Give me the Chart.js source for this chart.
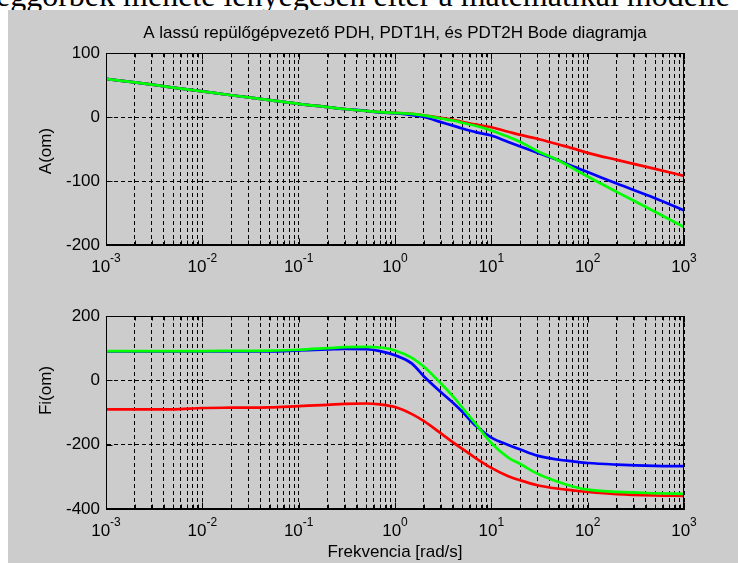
<!DOCTYPE html>
<html>
<head>
<meta charset="utf-8">
<script src="https://cdn.jsdelivr.net/npm/chart.js@4.4.1/dist/chart.umd.min.js"></script>
<style>
  html, body { margin: 0; padding: 0; background: #fff; }
  body { width: 738px; height: 563px; position: relative; overflow: hidden; }
  #doc { position: absolute; left: -4px; top: -24px; white-space: nowrap;
         font-family: "Liberation Serif", "Times New Roman", serif; font-size: 32px; line-height: 38px; color: #000; }
  #fig { position: absolute; left: 8px; top: 10px; width: 730px; height: 553px; background: #cccccc; }
  canvas { position: absolute; left: 0; }
</style>
</head>
<body>
<div id="doc">eggörbék menete lényegesen eltér a matematikai modelle</div>
<div id="fig"></div>
<canvas id="amp" width="738" height="290" style="top:0"></canvas>
<canvas id="fazis" width="738" height="273" style="top:290px"></canvas>
<script>
// frekvenciák [rad/s]
const freq = [0.001, 0.002, 0.005, 0.01, 0.02, 0.05, 0.1, 0.2, 0.3, 0.5, 0.7, 1, 1.5, 2, 3, 4, 5, 7, 10, 15, 20, 30, 50, 70, 100, 200, 500, 1000];

// amplitúdó (dB)
const ampPDH   = [59.5, 54, 46, 40, 34, 26.5, 20.5, 15.5, 12.5, 9.5, 7.5, 6.5, 5, 2.6, -1.4, -4.5, -7.5, -12, -16, -23, -28, -34, -43, -49, -56, -67, -81, -92];
const ampPDT1H = [59.5, 54, 46, 40, 34, 26.5, 20.5, 15.5, 12.5, 9.5, 7, 6, 3, 0, -8, -13.5, -18, -24, -29, -39, -46, -56, -68, -77, -86, -104, -127, -146];
const ampPDT2H = [59.5, 54, 46, 40, 34, 26.5, 20.5, 15.5, 12.5, 9.5, 7.5, 6.5, 5, 2.6, -2.4, -5.5, -9, -14, -21, -31, -39, -53, -68, -80, -93, -117, -148, -172];

// fázis (fok)
const fiPDH   = [-90.5, -90.5, -90, -86, -85, -84, -80, -76, -73, -72, -75, -83, -105, -127, -165, -193, -213, -243, -272, -298, -311, -326, -337, -342, -347, -354, -358, -359];
const fiPDT1H = [90, 90, 90, 90, 90, 90, 93, 96, 98, 97, 91, 78, 52, 12, -37, -70, -98, -143, -178, -201, -215, -234, -247, -252, -257, -262, -266, -267];
const fiPDT2H = [91, 91, 91, 91, 91.5, 92.5, 95, 100, 103, 104, 102, 93, 70, 42, -10, -50, -85, -138, -195, -240, -260, -290, -316, -330, -340, -347, -351, -353];

// tengely feliratok
const decades = [0.001, 0.01, 0.1, 1, 10, 100, 1000];
const expLabels = ['-3', '-2', '-1', '0', '1', '2', '3'];
const minorSteps = [2, 3, 4, 5, 6, 7, 8, 9];
const ampTicks = [-200, -100, 0, 100];
const fiTicks = [-400, -200, 0, 200];

const FONT = "'Liberation Sans', Arial, sans-serif";
Chart.defaults.font.family = FONT;
Chart.defaults.font.size = 17;
Chart.defaults.color = '#000';

function pts(arr) {
    return freq.map((f, i) => ({ x: f, y: arr[i] }));
}

function logTicks() {
    const t = [];
    decades.forEach(d => {
        t.push({ value: d, major: true });
        if (d < 1000) minorSteps.forEach(m => t.push({ value: d * m, major: false }));
    });
    return t;
}

// MATLAB-szerű keret, befelé álló osztások, 10^n feliratok, y tengely cím
const matlabAxes = {
    id: 'matlabAxes',
    afterDraw(chart, args, o) {
        const { ctx, chartArea: a, scales: { x, y } } = chart;
        const L = Math.round(a.left) + 0.5, R = Math.round(a.right) - 0.5;
        const T = Math.round(a.top) + 0.5, B = Math.round(a.bottom) - 0.5;
        ctx.save();
        ctx.setLineDash([]);
        ctx.strokeStyle = '#000';
        ctx.lineWidth = 1;
        ctx.beginPath();
        x.ticks.forEach(t => {
            const px = Math.round(x.getPixelForValue(t.value)) + 0.5;
            const len = t.major ? 6 : 4;
            ctx.moveTo(px, B); ctx.lineTo(px, B - len);
            ctx.moveTo(px, T); ctx.lineTo(px, T + len);
        });
        y.ticks.forEach(t => {
            const py = Math.round(y.getPixelForValue(t.value)) + 0.5;
            ctx.moveTo(L, py); ctx.lineTo(L + 6, py);
            ctx.moveTo(R, py); ctx.lineTo(R - 6, py);
        });
        ctx.stroke();
        ctx.strokeRect(L, T, R - L, B - T);

        ctx.fillStyle = '#000';
        ctx.textAlign = 'left';
        ctx.textBaseline = 'alphabetic';
        decades.forEach((d, i) => {
            const px = x.getPixelForValue(d);
            ctx.font = '17px ' + FONT;
            const w1 = ctx.measureText('10').width;
            ctx.font = '12px ' + FONT;
            const w2 = ctx.measureText(expLabels[i]).width;
            const x0 = px - (w1 + w2) / 2;
            ctx.font = '17px ' + FONT;
            ctx.fillText('10', x0, a.bottom + 27);
            ctx.font = '12px ' + FONT;
            ctx.fillText(expLabels[i], x0 + w1, a.bottom + 17);
        });

        // y tengely címe
        ctx.font = '17px ' + FONT;
        ctx.textAlign = 'center';
        ctx.textBaseline = 'middle';
        ctx.translate(o.titleX, (a.top + a.bottom) / 2 + o.titleShift);
        ctx.rotate(-Math.PI / 2);
        ctx.fillText(o.yTitle, 0, 0);
        ctx.restore();
    }
};

function makeChart(id, series, yMin, yMax, yStep, yTicks, yTitle, opts) {
    const colors = ['#ff0000', '#0000ff', '#00ff00'];
    const names = ['PDH', 'PDT1H', 'PDT2H'];
    return new Chart(document.getElementById(id), {
        type: 'line',
        data: {
            datasets: series.map((s, i) => ({
                label: names[i],
                data: pts(s),
                borderColor: colors[i],
                borderWidth: 2.7,
                pointRadius: 0,
                cubicInterpolationMode: 'monotone',
                order: 2 - i
            }))
        },
        options: {
            responsive: false,
            animation: false,
            events: [],
            layout: { padding: opts.padding },
            plugins: {
                legend: { display: false },
                tooltip: { enabled: false },
                title: opts.title || { display: false },
                matlabAxes: { yTitle: yTitle, titleX: 46, titleShift: opts.yTitleShift }
            },
            scales: {
                x: {
                    type: 'logarithmic',
                    min: 0.001,
                    max: 1000,
                    afterBuildTicks: s => { s.ticks = logTicks(); },
                    afterFit: s => { s.height = opts.xHeight; },
                    ticks: { display: false, autoSkip: false },
                    grid: { color: '#000', lineWidth: 1, drawTicks: false },
                    border: { display: true, color: '#000', dash: [4, 3] },
                    title: opts.xTitle || { display: false }
                },
                y: {
                    min: yMin,
                    max: yMax,
                    afterBuildTicks: s => { s.ticks = yTicks.map(v => ({ value: v })); },
                    afterFit: s => { s.width = 71; },
                    ticks: { stepSize: yStep, padding: 6, font: { size: 17 } },
                    grid: { color: '#000', lineWidth: 1, drawTicks: false },
                    border: { display: true, color: '#000', dash: [4, 3] }
                }
            }
        },
        plugins: [matlabAxes]
    });
}

makeChart('amp', [ampPDH, ampPDT1H, ampPDT2H], -200, 100, 100, ampTicks, 'A(om)', {
    padding: { left: 35, right: 54, top: 0, bottom: 0 },
    xHeight: 45,
    yTitleShift: 2,
    title: {
        display: true,
        fullSize: false,
        text: 'A lassú repülőgépvezető PDH, PDT1H, és PDT2H Bode diagramja',
        font: { size: 17, weight: 'normal' },
        color: '#000',
        padding: { top: 23, bottom: 9.6 }
    }
});

makeChart('fazis', [fiPDH, fiPDT1H, fiPDT2H], -400, 200, 200, fiTicks, 'Fi(om)', {
    padding: { left: 35, right: 54, top: 26, bottom: 0 },
    xHeight: 54,
    yTitleShift: -22,
    xTitle: { display: true, text: 'Frekvencia [rad/s]', font: { size: 17 }, padding: { top: 0, bottom: 0 } }
});
</script>
</body>
</html>
